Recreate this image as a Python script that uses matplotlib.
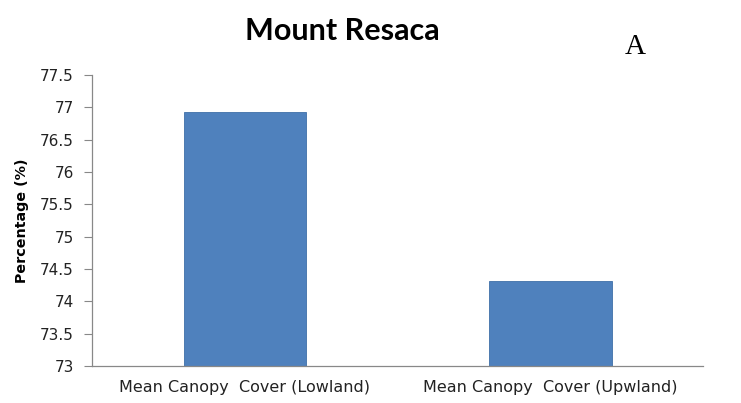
import matplotlib
matplotlib.use("Agg")
from matplotlib import pyplot as plt

categories = ["Mean Canopy  Cover (Lowland)", "Mean Canopy  Cover (Upwland)"]
values = [76.93, 74.32]
yticks = [73, 73.5, 74, 74.5, 75, 75.5, 76, 76.5, 77, 77.5]
yticklabels = ["73", "73.5", "74", "74.5", "75", "75.5", "76", "76.5", "77", "77.5"]

plt.rcParams["font.family"] = ["DejaVu Sans"]

fig = plt.figure(figsize=(7.41, 4.03), dpi=100)
ax = fig.add_axes([0.124, 0.092, 0.825, 0.722])

ax.bar(range(len(categories)), values, width=0.4, bottom=0,
       color="#4f81bd", edgecolor="#3f6fa8", linewidth=0.6)

ax.set_xlim(-0.5, 1.5)
ax.set_ylim(73, 77.5)
ax.set_yticks(yticks)
ax.set_yticklabels(yticklabels, fontsize=11, color="#222222")
ax.set_xticks(range(len(categories)))
ax.set_xticklabels(categories, fontsize=11.5, color="#222222")
ax.tick_params(axis="x", length=0, pad=10)
ax.tick_params(axis="y", length=6, width=0.8, color="#888888", pad=7)

for s in ["top", "right"]:
    ax.spines[s].set_visible(False)
for s in ["left", "bottom"]:
    ax.spines[s].set_color("#888888")
    ax.spines[s].set_linewidth(0.9)

ax.set_ylabel("Percentage (%)", fontsize=10.3, fontweight="bold", labelpad=8)

fig.text(0.462, 0.923, "Mount Resaca", fontsize=22, fontweight="bold",
         family="Lato", ha="center", va="center")
fig.text(0.857, 0.883, "A", fontsize=21, family="Liberation Serif",
         ha="center", va="center")

fig.savefig("out.png", dpi=100)
